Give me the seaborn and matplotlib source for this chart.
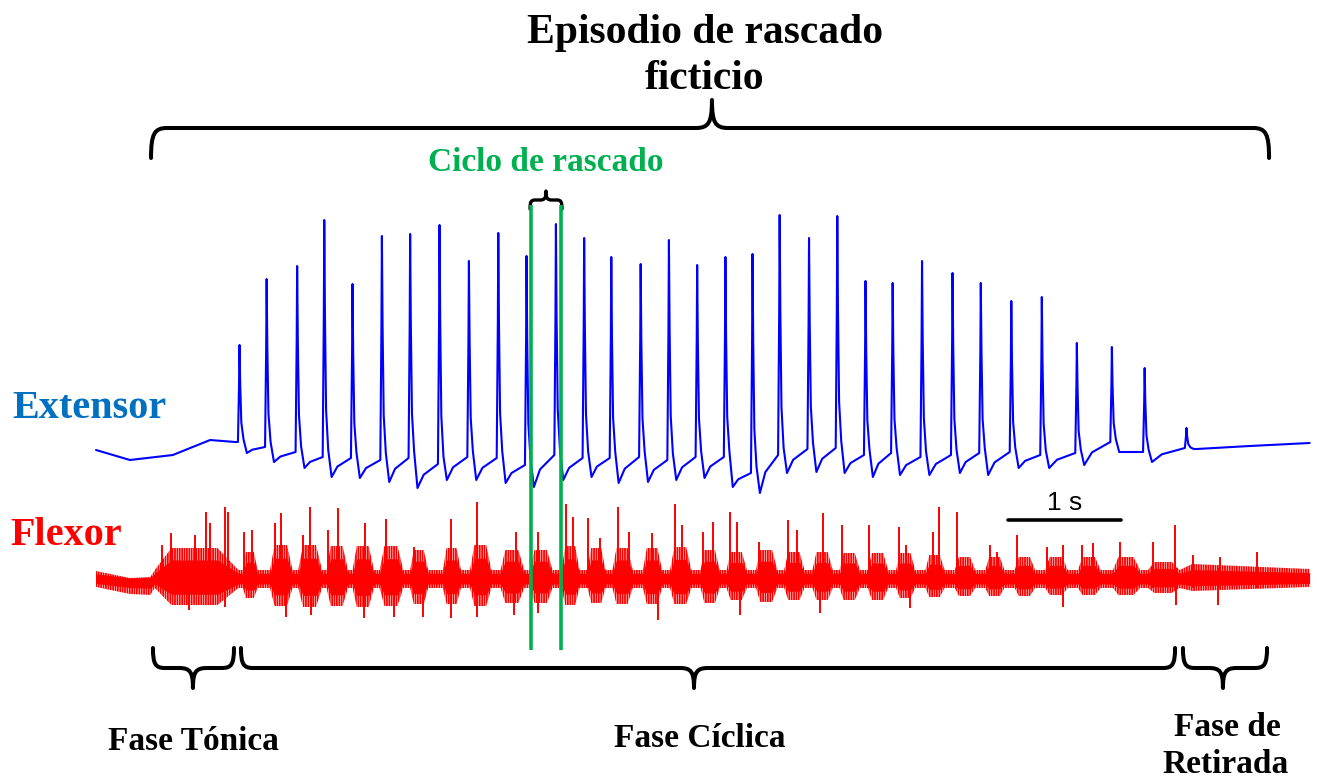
import numpy as np
import pandas as pd
import matplotlib
matplotlib.use("Agg")
import matplotlib.pyplot as plt
import seaborn as sns
from matplotlib.path import Path
from matplotlib.patches import PathPatch

sns.set_theme(style="white")
plt.rcParams['font.family'] = ['Liberation Serif', 'DejaVu Serif']
plt.rcParams['text.color'] = 'black'
plt.rcParams['hatch.linewidth'] = 1.3

# ---------------- data (time in s, amplitude in arbitrary mV) ----------------
# Extensor: one spike per scratch cycle
ext_spike_t = [1.27, 1.51, 1.78, 2.02, 2.27, 2.53, 2.78, 3.04, 3.30, 3.56, 3.81,
               4.07, 4.32, 4.56, 4.82, 5.07, 5.32, 5.57, 5.81, 6.05, 6.31, 6.56,
               6.81, 7.05, 7.31, 7.58, 7.83, 8.10, 8.37, 8.68, 8.99, 9.28, 9.65]
ext_peak = [2.10, 3.42, 3.68, 4.60, 3.32, 4.28, 4.32, 4.50, 3.78, 4.34, 3.88,
            4.52, 4.24, 3.86, 3.72, 4.20, 3.70, 3.86, 3.92, 4.70, 4.24, 4.68,
            3.38, 3.34, 3.78, 3.54, 3.34, 2.98, 3.06, 2.14, 2.06, 1.64, 0.44]
ext_pre = [0.16, 0.06, -0.04, -0.14, -0.16, -0.20, -0.16, -0.28, -0.14, -0.16, -0.30,
           -0.10, -0.16, -0.16, -0.14, -0.20, -0.14, -0.14, -0.46, -0.10, 0.02, 0.04,
           -0.10, -0.06, -0.14, -0.10, -0.06, -0.04, -0.10, -0.06, 0.16, -0.04, 0.04]
ext_trough = [-0.06, -0.24, -0.36, -0.54, -0.56, -0.64, -0.76, -0.60, -0.60, -0.66, -0.74,
              -0.60, -0.54, -0.66, -0.64, -0.60, -0.56, -0.74, -0.86, -0.46, -0.44, -0.46,
              -0.54, -0.50, -0.50, -0.46, -0.50, -0.36, -0.36, -0.30, -0.04, -0.24, 0.02]
ext_before_t = [0.00, 0.30, 0.68, 1.01, 1.23]
ext_before_v = [0.00, -0.20, -0.10, 0.20, 0.16]
ext_after_t = [9.74, 10.21, 10.74]
ext_after_v = [0.02, 0.08, 0.14]

# Flexor: burst envelopes
flex_burst_on = [0.52, 1.30, 1.54, 1.79, 2.04, 2.27, 2.51, 2.78, 3.07, 3.31, 3.58,
                 3.84, 4.12, 4.35, 4.57, 4.84, 5.08, 5.35, 5.58, 5.84, 6.09, 6.34,
                 6.58, 6.83, 7.08, 7.34, 7.60, 7.87, 8.13, 8.40, 8.69, 9.00, 9.31]
flex_burst_off = [1.26, 1.43, 1.74, 2.00, 2.23, 2.46, 2.72, 2.94, 3.23, 3.50, 3.79,
                  4.04, 4.28, 4.51, 4.75, 5.01, 5.27, 5.52, 5.76, 6.03, 6.27, 6.52,
                  6.76, 7.01, 7.25, 7.51, 7.78, 8.04, 8.31, 8.60, 8.89, 9.24, 9.59]
flex_burst_hi = [0.60, 0.52, 0.66, 0.66, 0.64, 0.64, 0.64, 0.56, 0.60, 0.66, 0.56,
                 0.56, 0.64, 0.60, 0.60, 0.60, 0.62, 0.56, 0.52, 0.56, 0.52, 0.52,
                 0.50, 0.50, 0.50, 0.46, 0.42, 0.42, 0.42, 0.42, 0.42, 0.42, 0.32]
flex_burst_lo = [-0.54, -0.40, -0.56, -0.58, -0.56, -0.58, -0.56, -0.52, -0.52, -0.56, -0.50,
                 -0.50, -0.54, -0.50, -0.52, -0.52, -0.52, -0.50, -0.44, -0.48, -0.44, -0.44,
                 -0.44, -0.44, -0.40, -0.38, -0.36, -0.36, -0.36, -0.34, -0.34, -0.34, -0.30]
flex_quiet_hi, flex_quiet_lo = 0.16, -0.20
flex_pre_t = [0.00, 0.30, 0.48]
flex_pre_hi = [0.14, 0.00, 0.02]
flex_pre_lo = [-0.18, -0.32, -0.34]
flex_post_t = [9.70, 10.74]
flex_post_hi = [0.28, 0.18]
flex_post_lo = [-0.26, -0.18]
# Flexor: largest individual deflections
flex_up_t = [0.58, 0.66, 0.88, 0.97, 1.01, 1.14, 1.17, 1.31, 1.38, 1.58, 1.64, 1.83,
             1.89, 2.05, 2.14, 2.38, 2.57, 2.81, 3.14, 3.37, 3.72, 3.91, 4.16, 4.22,
             4.35, 4.46, 4.62, 4.72, 4.92, 5.12, 5.19, 5.37, 5.46, 5.61, 5.67, 5.87,
             6.12, 6.20, 6.43, 6.60, 6.84, 7.11, 7.17, 7.41, 7.46, 7.62, 7.91, 7.97,
             8.15, 8.42, 8.56, 8.73, 8.82, 9.06, 9.35, 9.55, 9.71, 9.95, 10.27]
flex_up_v = [0.66, 0.90, 0.86, 1.32, 1.10, 1.42, 1.32, 0.92, 0.96, 1.10, 1.30, 0.86,
             1.42, 0.96, 1.40, 1.10, 1.18, 0.62, 1.18, 1.52, 0.92, 0.92, 1.48, 1.22,
             1.20, 0.80, 1.42, 0.92, 0.90, 1.48, 1.06, 0.92, 1.12, 1.32, 1.12, 0.72,
             1.16, 0.96, 1.30, 1.06, 1.06, 1.02, 0.66, 0.92, 1.42, 1.32, 0.66, 0.52,
             0.86, 0.62, 0.66, 0.66, 0.70, 0.72, 0.72, 1.06, 0.46, 0.42, 0.52]
flex_dn_t = [0.82, 1.14, 1.68, 1.90, 2.37, 2.64, 2.89, 3.14, 3.37, 3.70, 3.91,
             4.97, 5.70, 6.41, 7.20, 8.56, 9.56, 9.93]
flex_dn_v = [-0.64, -0.58, -0.78, -0.74, -0.80, -0.78, -0.78, -0.80, -0.78, -0.74, -0.70,
             -0.84, -0.74, -0.70, -0.60, -0.58, -0.54, -0.54]

# Annotations
cycle_bounds = [3.85, 4.115]
episode = (0.487, 10.381, 5.451)
phase_names = ["Fase Tónica", "Fase Cíclica", "Fase de\nRetirada"]
phase_start = [0.504, 1.283, 9.619]
phase_end = [1.221, 9.549, 10.363]
phase_mid = [0.858, 5.292, 9.973]
scale_bar = (8.07, 1.0)

# ---------------- figure ----------------
fig = plt.figure(figsize=(13.17, 7.80), dpi=100)
ax = fig.add_axes([0, 0, 1, 1])
ax.set_xlim(-0.8496, 10.8053)
ax.set_ylim(0, 15.6)
ax.axis('off')
EXT_OFF = 6.6
FLX_OFF = 4.04
SX = 1 / 113.0
SY = 1 / 50.0
RED = "#FF0000"

# extensor trace
et, ev = list(ext_before_t), list(ext_before_v)
nxt = ext_spike_t[1:] + [ext_after_t[0] + 0.014]
nxt_pre = ext_pre[1:] + [ext_after_v[0]]
for t, p, pre, tr, tn, pn in zip(ext_spike_t, ext_peak, ext_pre, ext_trough, nxt, nxt_pre):
    et += [t - 0.014, t - 0.004, t, t + 0.006, t + 0.016, t + 0.035, t + 0.065]
    ev += [pre, pre + 0.6 * (p - pre), p, pre + 0.6 * (p - pre),
           pre + 0.2 * (p - pre), pre + 0.03 * (p - pre), tr]
    tm = t + 0.065 + 0.3 * (tn - 0.014 - t - 0.065)
    if tm < tn - 0.02:
        et.append(tm)
        ev.append(tr + 0.55 * (pn - tr))
et += ext_after_t
ev += ext_after_v
ext_df = pd.DataFrame({"t": et, "v": np.array(ev) + EXT_OFF})
sns.lineplot(data=ext_df, x="t", y="v", sort=False, estimator=None,
             color="#0000FF", lw=1.5, ax=ax)

# flexor trace
ft, fh, fl = list(flex_pre_t), list(flex_pre_hi), list(flex_pre_lo)
for on, off, hi, lo in zip(flex_burst_on, flex_burst_off, flex_burst_hi, flex_burst_lo):
    d = off - on
    ft += [on, on + 0.2 * d, off - 0.25 * d, off]
    fh += [flex_quiet_hi, hi, hi, flex_quiet_hi]
    fl += [flex_quiet_lo, lo, lo, flex_quiet_lo]
ft += flex_post_t
fh += flex_post_hi
fl += flex_post_lo
fh = np.array(fh) + FLX_OFF
fl = np.array(fl) + FLX_OFF
ax.fill_between(ft, fh, fl, facecolor="none", edgecolor=RED, hatch="|||||||", lw=0)
mid_hi = FLX_OFF + 0.6 * (fh - FLX_OFF)
mid_lo = FLX_OFF + 0.6 * (fl - FLX_OFF)
ax.fill_between(ft, mid_hi, mid_lo, color=RED, lw=0)
ax.vlines(flex_up_t, FLX_OFF - 0.2, np.array(flex_up_v) + FLX_OFF, color=RED, lw=1.4)
ax.vlines(flex_dn_t, FLX_OFF + 0.2, np.array(flex_dn_v) + FLX_OFF, color=RED, lw=1.4)

# cycle markers
GREEN = "#00B050"
ax.vlines(cycle_bounds, 2.6, 11.5, color=GREEN, lw=2.6)

# scale bar
ax.plot([scale_bar[0], scale_bar[0] + scale_bar[1]], [5.2, 5.2], color="black",
        lw=2.6, solid_capstyle="round")
ax.text(scale_bar[0] + scale_bar[1] / 2, 5.40, "1 s", ha="center", va="baseline",
        fontsize=19, family=["Liberation Sans", "DejaVu Sans"])


def brace(x0, x1, xm, y, end_px, tip_px, up=True, r_px=16, c_px=16, lw=2.9):
    s = 1 if up else -1
    e, k = end_px * SY, tip_px * SY
    r, c = r_px * SX, c_px * SX
    verts = [(x0, y - s * e),
             (x0, y - s * e * 0.2), (x0 + r * 0.2, y), (x0 + r, y),
             (xm - c, y),
             (xm - c * 0.2, y), (xm, y + s * k * 0.2), (xm, y + s * k),
             (xm, y + s * k * 0.2), (xm + c * 0.2, y), (xm + c, y),
             (x1 - r, y),
             (x1 - r * 0.2, y), (x1, y - s * e * 0.2), (x1, y - s * e)]
    codes = [Path.MOVETO] + [Path.CURVE4] * 3 + [Path.LINETO] + [Path.CURVE4] * 6 \
        + [Path.LINETO] + [Path.CURVE4] * 3
    ax.add_patch(PathPatch(Path(verts, codes), fill=False, lw=lw, edgecolor="black",
                           capstyle="round", joinstyle="round"))


brace(episode[0], episode[1], episode[2], 13.04, 30, 28, up=True)
brace(3.841, 4.124, 3.982, 11.60, 9, 9, up=True, r_px=5, c_px=6, lw=2.4)
for s0, s1, m in zip(phase_start, phase_end, phase_mid):
    brace(s0, s1, m, 2.24, 20, 20, up=False, r_px=12, c_px=14)

bold = dict(fontweight="bold")
ax.text(5.389, 14.74, "Episodio de rascado", ha="center", va="baseline", fontsize=30, **bold)
ax.text(5.389, 13.82, "ficticio", ha="center", va="baseline", fontsize=30, **bold)
ax.text(3.982, 12.18, "Ciclo de rascado", ha="center", va="baseline", fontsize=24,
        color=GREEN, **bold)
ax.text(-0.743, 7.24, "Extensor", ha="left", va="baseline", fontsize=29,
        color="#0070C0", **bold)
ax.text(-0.761, 4.70, "Flexor", ha="left", va="baseline", fontsize=29,
        color=RED, **bold)
ax.text(0.858, 0.60, phase_names[0], ha="center", va="baseline", fontsize=24, **bold)
ax.text(5.345, 0.66, phase_names[1], ha="center", va="baseline", fontsize=24, **bold)
ax.text(10.01, 0.88, phase_names[2].split("\n")[0], ha="center", va="baseline",
        fontsize=24, **bold)
ax.text(10.00, 0.14, phase_names[2].split("\n")[1], ha="center", va="baseline",
        fontsize=24, **bold)

fig.savefig("out.png", dpi=100, facecolor="white")
